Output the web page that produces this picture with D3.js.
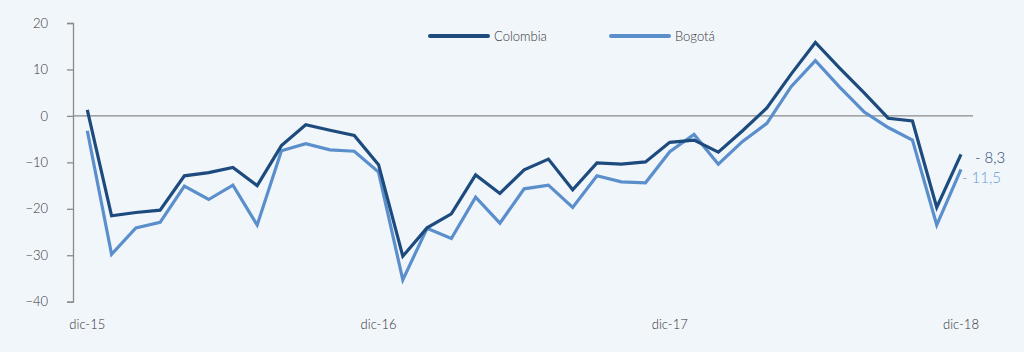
<!DOCTYPE html>
<html>
<head>
<meta charset="utf-8">
<script src="https://cdn.jsdelivr.net/npm/d3@7"></script>
<style>
  body { margin: 0; background: #f1f6fb; }
  svg { display: block; font-family: Lato, "Open Sans", sans-serif; font-weight: 300; }
</style>
</head>
<body>
<svg id="chart" width="1024" height="352"></svg>
<script>
const months = d3.range(37);
const xLabels = [[0, "dic-15"], [12, "dic-16"], [24, "dic-17"], [36, "dic-18"]];
const colombia = [1.3, -21.5, -20.8, -20.3, -12.9, -12.2, -11.1, -15.0, -6.4, -1.9,
  -3.1, -4.2, -10.5, -30.2, -24.1, -21.1, -12.7, -16.7, -11.6, -9.3,
  -15.9, -10.1, -10.4, -9.9, -5.7, -5.2, -7.8, -3.2, 1.7, 9.0,
  15.8, 10.3, 5.0, -0.5, -1.1, -19.7, -8.3];
const bogota = [-3.2, -29.8, -24.1, -22.9, -15.1, -18.0, -14.9, -23.5, -7.5, -6.0,
  -7.3, -7.6, -12.1, -35.3, -24.2, -26.4, -17.5, -23.1, -15.7, -14.9,
  -19.7, -12.9, -14.2, -14.4, -7.7, -4.0, -10.4, -5.5, -1.6, 6.3,
  11.9, 6.2, 0.9, -2.5, -5.2, -23.5, -11.5];
const yTicks = [20, 10, 0, -10, -20, -30, -40];

const series = [
  { name: "Colombia", values: colombia, color: "#1d4b7d", label: "- 8,3" },
  { name: "Bogotá", values: bogota, color: "#5b8fcc", label: "- 11,5" }
];

const svg = d3.select("#chart");
svg.append("rect").attr("width", 1024).attr("height", 352).attr("fill", "#f1f6fb");

const x = d3.scaleLinear().domain([0, 36]).range([87.3, 961]);
const y = d3.scaleLinear().domain([-40, 20]).range([301.7, 23]);

// y axis
const yAxis = svg.append("g")
  .attr("transform", "translate(73,0)")
  .call(d3.axisLeft(y).tickValues(yTicks).tickSize(6).tickPadding(19));
yAxis.select(".domain").attr("stroke", "#8a8a8a").attr("stroke-width", 1.3);
yAxis.selectAll(".tick line").attr("stroke", "#8a8a8a").attr("stroke-width", 1.3);
yAxis.selectAll(".tick text")
  .attr("fill", "#333").attr("font-size", 13)
  .attr("font-family", "Lato, 'Open Sans', sans-serif")
  .attr("font-weight", 300);

// zero line
svg.append("line")
  .attr("x1", 73).attr("x2", 973)
  .attr("y1", y(0)).attr("y2", y(0))
  .attr("stroke", "#8a8a8a").attr("stroke-width", 1.3);

// x labels
svg.selectAll(".xlab")
  .data(xLabels)
  .enter()
  .append("text")
  .attr("class", "xlab")
  .attr("x", (d) => x(d[0]))
  .attr("y", 329)
  .attr("text-anchor", "middle")
  .attr("fill", "#333")
  .attr("font-size", 13)
  .text((d) => d[1]);

const line = d3.line()
  .x((d, i) => x(i))
  .y((d) => y(d));

// Bogotá drawn first, Colombia on top
[series[1], series[0]].forEach((s) => {
  svg.append("path")
    .datum(s.values)
    .attr("fill", "none")
    .attr("stroke", s.color)
    .attr("stroke-width", 3.2)
    .attr("stroke-linejoin", "miter")
    .attr("d", line);
});

// end labels
svg.append("text")
  .attr("x", 975).attr("y", y(colombia[36]) + 9)
  .attr("fill", "#2b4a6e").attr("font-size", 15)
  .text(series[0].label);
svg.append("text")
  .attr("x", 962).attr("y", y(bogota[36]) + 14)
  .attr("fill", "#6b9bd3").attr("font-size", 15)
  .text(series[1].label);

// legend
const legend = svg.selectAll(".legend")
  .data(series)
  .enter()
  .append("g")
  .attr("class", "legend")
  .attr("transform", (d, i) => `translate(${430 + i * 181},36)`);
legend.append("line")
  .attr("x1", 0).attr("x2", 58)
  .attr("stroke", (d) => d.color)
  .attr("stroke-width", 4)
  .attr("stroke-linecap", "round");
legend.append("text")
  .attr("x", 64).attr("y", 4.5)
  .attr("fill", "#333")
  .attr("font-size", 13)
  .text((d) => d.name);
</script>
</body>
</html>
